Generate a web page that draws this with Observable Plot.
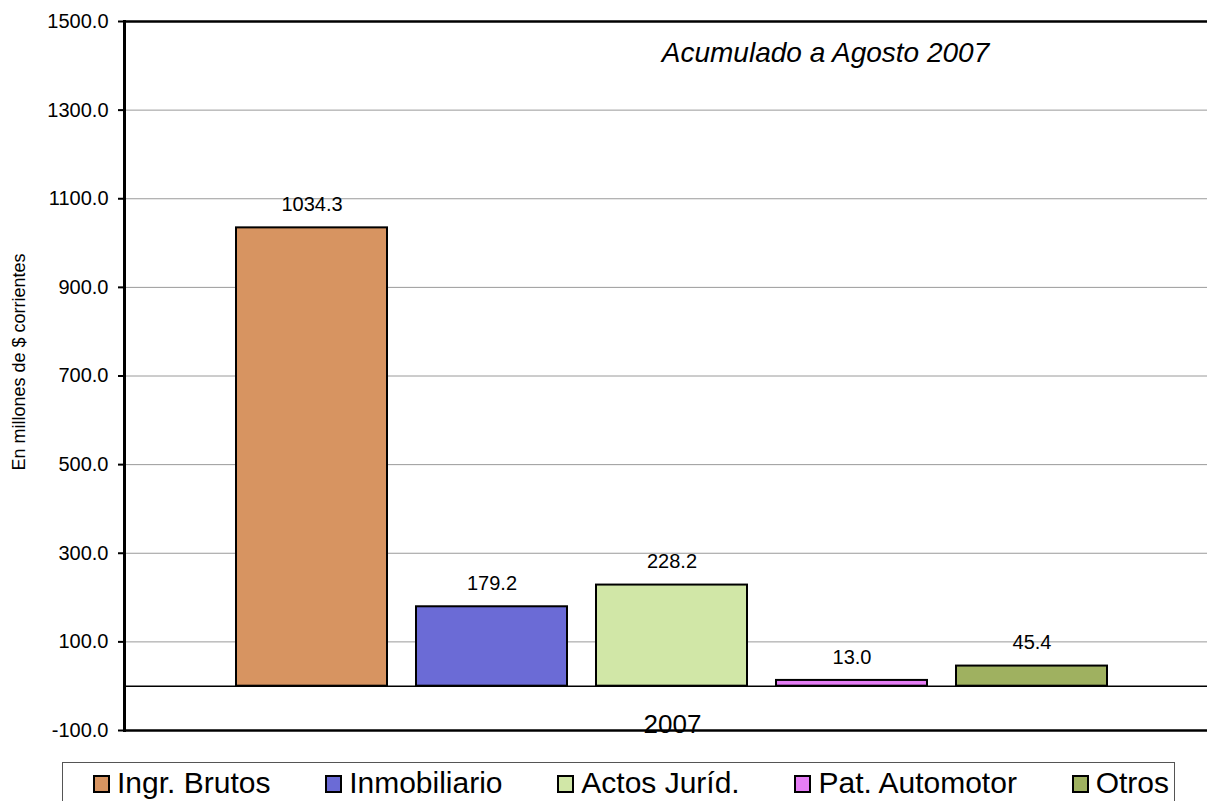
<!DOCTYPE html>
<html>
<head>
<meta charset="utf-8">
<script src="https://cdn.jsdelivr.net/npm/d3@7"></script>
<script src="https://cdn.jsdelivr.net/npm/@observablehq/plot@0.6"></script>
<style>
  html, body { margin: 0; padding: 0; background: white; overflow: hidden; }
  #wrap { width: 1207px; height: 801px; overflow: hidden; position: relative; font-family: "Liberation Sans", Arial, sans-serif; }
  #chart { position: absolute; left: 0; top: 0; width: 1220px; }
  #chart svg { max-width: none !important; }
  #legend {
    position: absolute; left: 62px; top: 762px; width: 1113px; height: 60px;
    box-sizing: border-box; border: 1px solid #555; background: white;
    display: flex; justify-content: space-between; align-items: flex-start;
    padding: 3px 5px 0 30px; font-size: 30px; color: black;
  }
  .item { display: flex; align-items: center; white-space: nowrap; }
  .sw { width: 17px; height: 18px; border: 2px solid black; margin-right: 7px; box-sizing: border-box; margin-top: 2px; }
</style>
</head>
<body>
<div id="wrap"><div id="chart"></div><div id="legend"></div></div>
<script>
const categories = ["Ingr. Brutos", "Inmobiliario", "Actos Juríd.", "Pat. Automotor", "Otros"];
const values = [1034.3, 179.2, 228.2, 13.0, 45.4];
const colors = ["#D79461", "#6B6BD6", "#D1E7A7", "#E67EF6", "#9FB160"];
const year = "2007";
const yTicks = [-100, 100, 300, 500, 700, 900, 1100, 1300, 1500];
const gridTicks = [100, 300, 500, 700, 900, 1100, 1300];
const subtitle = "Acumulado a Agosto 2007";
const yLabel = "En millones de $ corrientes";

const data = categories.map((c, i) => ({serie: c, value: values[i], year}));

const chart = Plot.plot({
  width: 1220,
  height: 752,
  marginLeft: 124,
  marginRight: 0,
  marginTop: 21,
  marginBottom: 22,
  style: {fontFamily: "'Liberation Sans', Arial, sans-serif", background: "white", color: "black", maxWidth: "none"},
  fx: {domain: [year], padding: 0, label: null},
  x: {domain: categories, paddingInner: 0.161, paddingOuter: 0.612, axis: null},
  y: {domain: [-100, 1500]},
  color: {domain: categories, range: colors},
  marks: [
    Plot.ruleY(gridTicks, {stroke: "#9a9a9a", strokeWidth: 1}),
    Plot.barY(data, {fx: "year", x: "serie", y: "value", fill: "serie", stroke: "black", strokeWidth: 2}),
    Plot.text(data, {fx: "year", x: "serie", y: "value", text: d => d.value.toFixed(1), dy: -23, fontSize: 20, fill: "black"}),
    Plot.ruleY([0], {stroke: "black", strokeWidth: 1.5}),
    Plot.ruleY([-100, 1500], {stroke: "black", strokeWidth: 2.5}),
    Plot.axisY({ticks: yTicks, tickFormat: d => d.toFixed(1), tickSize: 6, tickPadding: 10, fontSize: 20, strokeWidth: 2,
      label: yLabel, labelAnchor: "center", labelArrow: "none", labelOffset: 112}),
    Plot.axisFx({anchor: "bottom", tickSize: 0, tickPadding: 0, fontSize: 26, dy: -16, label: null}),
    Plot.frame({anchor: "left", stroke: "black", strokeWidth: 3}),
    Plot.text([subtitle], {frameAnchor: "top", dx: 153, dy: 21, fontSize: 28, fontStyle: "italic", fill: "black"})
  ]
});
document.getElementById("chart").appendChild(chart);
d3.select(chart).selectAll('[aria-label="y-axis label"] text').attr("font-size", 18).attr("dx", 14);

const legend = d3.select("#legend");
categories.forEach((c, i) => {
  const it = legend.append("div").attr("class", "item");
  it.append("div").attr("class", "sw").style("background", colors[i]);
  it.append("span").text(c);
});
</script>
</body>
</html>
